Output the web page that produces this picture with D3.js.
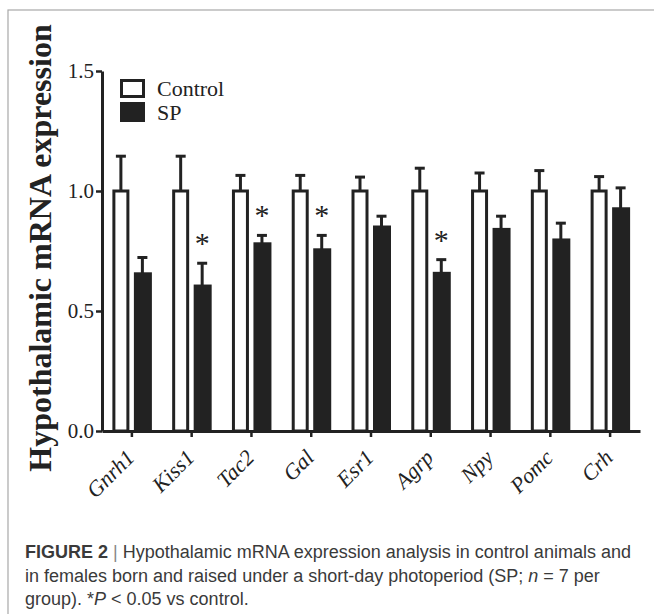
<!DOCTYPE html>
<html>
<head>
<meta charset="utf-8">
<script src="https://cdn.jsdelivr.net/npm/d3@7"></script>
<style>
  body { margin: 0; background: #fff; }
  svg { display: block; }
</style>
</head>
<body>
<div class="canvas"></div>
<script>
// data
const genes = ["Gnrh1", "Kiss1", "Tac2", "Gal", "Esr1", "Agrp", "Npy", "Pomc", "Crh"];
const controlMean = [1, 1, 1, 1, 1, 1, 1, 1, 1];
const controlSem = [0.145, 0.145, 0.065, 0.065, 0.058, 0.095, 0.075, 0.085, 0.06];
const spMean = [0.655, 0.604, 0.78, 0.755, 0.85, 0.657, 0.84, 0.796, 0.926];
const spSem = [0.068, 0.095, 0.035, 0.06, 0.045, 0.057, 0.055, 0.07, 0.087];
const significant = ["Kiss1", "Tac2", "Gal", "Agrp"];
const yTicks = [0, 0.5, 1.0, 1.5];
const groups = ["Control", "SP"];

// dimensions
const w = 654;
const h = 614;
const plot = { left: 102, right: 640, top: 71, bottom: 431 };

const svg = d3.select(".canvas").append("svg").attr("width", w).attr("height", h);

// grey frame around the figure
svg.append("rect")
  .attr("x", 8).attr("y", 10)
  .attr("width", 700).attr("height", 700)
  .attr("fill", "none")
  .attr("stroke", "#a8a8a8")
  .attr("stroke-width", 1.2);

const x = d3.scaleBand().domain(genes).range([plot.left, plot.right]);
const y = d3.scaleLinear().domain([0, 1.5]).range([plot.bottom, plot.top]);

const rows = genes.map((g, i) => ({
  gene: g,
  Control: { mean: controlMean[i], sem: controlSem[i] },
  SP: { mean: spMean[i], sem: spSem[i] },
}));

const barW = 17;
const offset = { Control: -19.5, SP: 2 };
const center = (g) => x(g) + x.bandwidth() / 2;

const graph = svg.append("g");

// bars
groups.forEach((grp) => {
  const sel = graph.selectAll(`.bar-${grp}`)
    .data(rows)
    .enter();

  // error bars (upper only)
  sel.append("line")
    .attr("x1", (d) => center(d.gene) + offset[grp] + barW / 2)
    .attr("x2", (d) => center(d.gene) + offset[grp] + barW / 2)
    .attr("y1", (d) => y(d[grp].mean))
    .attr("y2", (d) => y(d[grp].mean + d[grp].sem))
    .attr("stroke", "#222")
    .attr("stroke-width", 3);
  sel.append("line")
    .attr("x1", (d) => center(d.gene) + offset[grp] + barW / 2 - 5)
    .attr("x2", (d) => center(d.gene) + offset[grp] + barW / 2 + 5)
    .attr("y1", (d) => y(d[grp].mean + d[grp].sem))
    .attr("y2", (d) => y(d[grp].mean + d[grp].sem))
    .attr("stroke", "#222")
    .attr("stroke-width", 3);

  if (grp === "Control") {
    sel.append("rect")
      .attr("x", (d) => center(d.gene) + offset[grp] + 1.5)
      .attr("y", (d) => y(d[grp].mean))
      .attr("width", barW - 3)
      .attr("height", (d) => y(0) - y(d[grp].mean))
      .attr("fill", "#fff")
      .attr("stroke", "#222")
      .attr("stroke-width", 3);
  } else {
    sel.append("rect")
      .attr("x", (d) => center(d.gene) + offset[grp])
      .attr("y", (d) => y(d[grp].mean) - 1.5)
      .attr("width", barW + 1)
      .attr("height", (d) => y(0) - y(d[grp].mean) + 1.5)
      .attr("fill", "#222");
  }
});

// significance stars
graph.selectAll(".star")
  .data(rows.filter((d) => significant.includes(d.gene)))
  .enter()
  .append("text")
  .attr("x", (d) => center(d.gene) + offset.SP + barW / 2)
  .attr("y", (d) => y(d.SP.mean + d.SP.sem) - 10)
  .attr("text-anchor", "middle")
  .attr("font-family", "Liberation Serif")
  .attr("font-size", 30)
  .attr("fill", "#222")
  .text("*");

// axes
const yAxis = d3.axisLeft(y).tickValues(yTicks).tickFormat(d3.format(".1f")).tickSize(6).tickSizeOuter(0).tickPadding(2);
const yg = svg.append("g").attr("transform", `translate(${plot.left},0)`).call(yAxis);
yg.select(".domain").attr("stroke", "#222").attr("stroke-width", 3);
yg.selectAll(".tick line").attr("stroke", "#222").attr("stroke-width", 2.5);
yg.selectAll(".tick text")
  .attr("font-family", "Liberation Serif")
  .attr("font-size", 21)
  .attr("fill", "#222");

const xAxis = d3.axisBottom(x).tickSize(6).tickSizeOuter(0).tickFormat("");
const xg = svg.append("g").attr("transform", `translate(0,${plot.bottom})`).call(xAxis);
xg.select(".domain").attr("stroke", "#222").attr("stroke-width", 3);
xg.selectAll(".tick line").attr("stroke", "#222").attr("stroke-width", 2.5);

// rotated italic gene labels
svg.selectAll(".xlabel")
  .data(genes)
  .enter()
  .append("text")
  .attr("transform", (d) => `translate(${center(d) + 4},${plot.bottom + 28}) rotate(-45)`)
  .attr("text-anchor", "end")
  .attr("font-family", "Liberation Serif")
  .attr("font-style", "italic")
  .attr("font-size", 22)
  .attr("fill", "#222")
  .text((d) => d);

// y axis title
svg.append("text")
  .attr("transform", "translate(51,248) rotate(-90)")
  .attr("text-anchor", "middle")
  .attr("font-family", "Liberation Serif")
  .attr("font-weight", "bold")
  .attr("font-size", 32)
  .attr("fill", "#222")
  .text("Hypothalamic mRNA expression");

// legend
const legend = svg.append("g").attr("transform", "translate(120,79)");
legend.append("rect").attr("x", 1.5).attr("y", 1.5).attr("width", 22).attr("height", 16)
  .attr("fill", "#fff").attr("stroke", "#222").attr("stroke-width", 3);
legend.append("rect").attr("x", 0).attr("y", 23).attr("width", 25).attr("height", 20)
  .attr("fill", "#222");
legend.selectAll(".ltext")
  .data(groups)
  .enter()
  .append("text")
  .attr("x", 37)
  .attr("y", (d, i) => 17 + i * 24)
  .attr("font-family", "Liberation Serif")
  .attr("font-size", 22)
  .attr("fill", "#222")
  .text((d) => d);

// caption
const cap = svg.append("text")
  .attr("font-family", "Liberation Sans")
  .attr("font-size", 18)
  .attr("fill", "#3a3a3a");
const l1 = cap.append("tspan").attr("x", 25).attr("y", 558);
l1.append("tspan").attr("font-weight", "bold").text("FIGURE 2");
l1.append("tspan").attr("fill", "#888").text(" | ");
l1.append("tspan").text("Hypothalamic mRNA expression analysis in control animals and");
const l2 = cap.append("tspan").attr("x", 25).attr("y", 582);
l2.append("tspan").text("in females born and raised under a short-day photoperiod (SP; ");
l2.append("tspan").attr("font-style", "italic").text("n");
l2.append("tspan").text(" = 7 per");
const l3 = cap.append("tspan").attr("x", 25).attr("y", 605);
l3.append("tspan").text("group). *");
l3.append("tspan").attr("font-style", "italic").text("P");
l3.append("tspan").text(" < 0.05 vs control.");
</script>
</body>
</html>
